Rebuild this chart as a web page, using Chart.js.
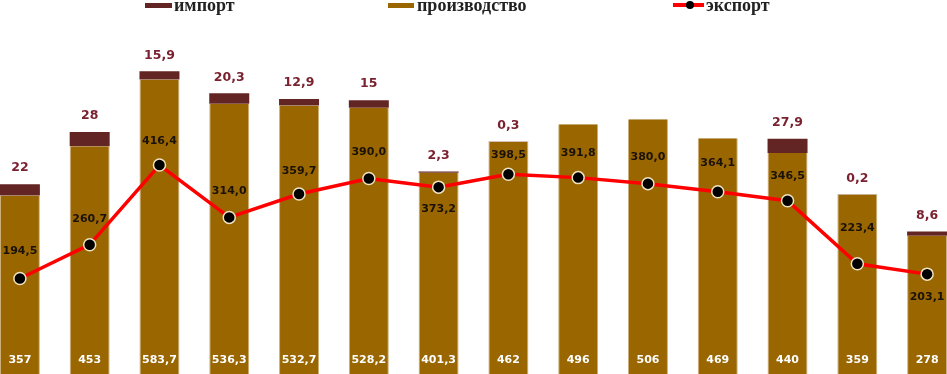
<!DOCTYPE html>
<html>
<head>
<meta charset="utf-8">
<script src="https://cdn.jsdelivr.net/npm/chart.js@4.4.1/dist/chart.umd.min.js"></script>
<style>
  html, body { margin: 0; padding: 0; background: #fff; overflow: hidden; width: 947px; height: 374px; }
  #wrap { position: absolute; left: -15px; top: 0; width: 977px; height: 392px; }
  .txt { position: absolute; top: -4px; font-family: "Liberation Serif", "Times New Roman", serif; font-weight: bold;
         font-size: 18px; line-height: 18px; color: #222; white-space: nowrap; }
  .box { position: absolute; top: 3px; height: 5px; }
  .ln { position: absolute; top: 3px; height: 4px; background: #ff0000; }
  .dot { position: absolute; top: 1px; width: 8px; height: 8px; border-radius: 50%; background: #000; }
</style>
</head>
<body>
<div id="wrap"><canvas id="chart"></canvas></div>
<div class="box" style="left:145px; width:27px; background:#632523"></div>
<div class="txt" style="left:174px">импорт</div>
<div class="box" style="left:388px; width:26px; background:#996600"></div>
<div class="txt" style="left:417px">производство</div>
<div class="ln" style="left:673px; width:31px"></div>
<div class="dot" style="left:686px"></div>
<div class="txt" style="left:706px">экспорт</div>
<script>
// --- Data ---
const categories = ['1', '2', '3', '4', '5', '6', '7', '8', '9', '10', '11', '12', '13', '14'];
const production = [357, 453, 583.7, 536.3, 532.7, 528.2, 401.3, 462, 496, 506, 469, 440, 359, 278];
const imports = [22, 28, 15.9, 20.3, 12.9, 15, 2.3, 0.3, null, null, null, 27.9, 0.2, 8.6];
const exports = [194.5, 260.7, 416.4, 314.0, 359.7, 390.0, 373.2, 398.5, 391.8, 380.0, 364.1, 346.5, 223.4, 203.1];

// --- Label placement for export values (px shift from the point) ---
const exportLabelShift = [-27, -26, -24, -26, -23, -26, 22, -19, -24, -27, -29, -25, -36, 23];

const PROD_COLOR = '#996600';
const IMPORT_COLOR = '#632523';
const LABEL_FONT = 'bold 11px "DejaVu Sans", Verdana, sans-serif';

// whole numbers without decimals, the rest with one decimal and a comma
function fmt(v) {
    return Number.isInteger(v) ? String(v) : v.toFixed(1).replace('.', ',');
}

const valueLabels = {
    id: 'valueLabels',
    afterDatasetsDraw(chart) {
        const ctx = chart.ctx;
        ctx.save();
        ctx.textAlign = 'center';
        ctx.textBaseline = 'middle';

        // production values, white at the foot of the bar
        const prodMeta = chart.getDatasetMeta(1);
        ctx.font = LABEL_FONT;
        ctx.fillStyle = '#ffffff';
        prodMeta.data.forEach((bar, i) => {
            ctx.fillText(fmt(production[i]), bar.x, bar.base - 18);
        });

        // import values, above the stacked bar
        const impMeta = chart.getDatasetMeta(2);
        ctx.font = 'bold 12.5px "DejaVu Sans", Verdana, sans-serif';
        ctx.fillStyle = '#7a2230';
        impMeta.data.forEach((bar, i) => {
            if (imports[i] == null) return;
            ctx.fillText(fmt(imports[i]), bar.x, bar.y - 16);
        });

        // export values near the points (always one decimal)
        const expMeta = chart.getDatasetMeta(0);
        ctx.font = LABEL_FONT;
        ctx.fillStyle = '#1a1208';
        expMeta.data.forEach((pt, i) => {
            ctx.fillText(exports[i].toFixed(1).replace('.', ','), pt.x, pt.y + exportLabelShift[i]);
        });
        ctx.restore();
    }
};

const ctx = document.getElementById('chart').getContext('2d');
new Chart(ctx, {
    type: 'bar',
    data: {
        labels: categories,
        datasets: [
            {
                type: 'line', label: 'экспорт', data: exports, stack: 'exp', order: 0,
                borderColor: '#ff0000', borderWidth: 3.5, tension: 0,
                pointRadius: 6, pointBackgroundColor: '#000000',
                pointBorderColor: '#efe3c2', pointBorderWidth: 1.5
            },
            {
                label: 'производство', data: production, stack: 'bars', order: 1,
                backgroundColor: PROD_COLOR, borderColor: '#cdb07a', borderWidth: { left: 1, right: 1, top: 0, bottom: 0 },
                barPercentage: 0.573, categoryPercentage: 1
            },
            {
                label: 'импорт', data: imports, stack: 'bars', order: 1,
                backgroundColor: IMPORT_COLOR, borderWidth: 0,
                barPercentage: 0.573, categoryPercentage: 1
            }
        ]
    },
    options: {
        responsive: true,
        maintainAspectRatio: false,
        animation: false,
        layout: { autoPadding: false, padding: { top: 20, bottom: 14, left: 0, right: 0 } },
        plugins: { legend: { display: false }, tooltip: { enabled: false } },
        scales: {
            x: { display: false, stacked: true, offset: true },
            y: { display: false, stacked: true, min: 0, max: 700 }
        }
    },
    plugins: [valueLabels]
});
</script>
</body>
</html>
